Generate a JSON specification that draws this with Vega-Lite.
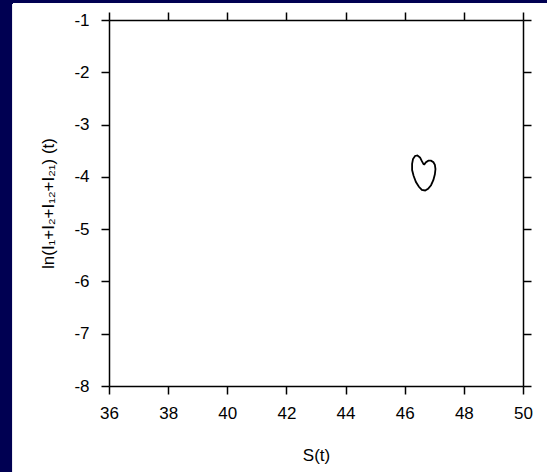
{
  "$schema": "https://vega.github.io/schema/vega-lite/v6.json",
  "autosize": "none",
  "width": 414,
  "height": 366,
  "padding": {"left": 109, "top": 20, "right": 24, "bottom": 86},
  "background": "#000052",
  "config": {
    "view": {"stroke": null},
    "axis": {
      "labelFont": "Liberation Sans",
      "titleFont": "Liberation Sans",
      "labelFontSize": 17,
      "titleFontSize": 17,
      "titleFontWeight": "normal",
      "labelColor": "black",
      "titleColor": "black",
      "domainColor": "black",
      "tickColor": "black",
      "domainWidth": 1.5,
      "tickWidth": 1.5,
      "tickSize": 8,
      "grid": false
    }
  },
  "data": {
    "values": [
      {"i": 0, "s": 46.65, "l": -3.77},
      {"i": 1, "s": 46.72, "l": -3.72},
      {"i": 2, "s": 46.80, "l": -3.69},
      {"i": 3, "s": 46.89, "l": -3.69},
      {"i": 4, "s": 46.97, "l": -3.72},
      {"i": 5, "s": 47.02, "l": -3.77},
      {"i": 6, "s": 47.04, "l": -3.85},
      {"i": 7, "s": 47.02, "l": -3.95},
      {"i": 8, "s": 46.97, "l": -4.06},
      {"i": 9, "s": 46.89, "l": -4.16},
      {"i": 10, "s": 46.79, "l": -4.23},
      {"i": 11, "s": 46.69, "l": -4.26},
      {"i": 12, "s": 46.58, "l": -4.25},
      {"i": 13, "s": 46.48, "l": -4.19},
      {"i": 14, "s": 46.38, "l": -4.10},
      {"i": 15, "s": 46.30, "l": -3.98},
      {"i": 16, "s": 46.25, "l": -3.87},
      {"i": 17, "s": 46.25, "l": -3.75},
      {"i": 18, "s": 46.28, "l": -3.66},
      {"i": 19, "s": 46.35, "l": -3.60},
      {"i": 20, "s": 46.43, "l": -3.59},
      {"i": 21, "s": 46.52, "l": -3.63},
      {"i": 22, "s": 46.58, "l": -3.70},
      {"i": 23, "s": 46.65, "l": -3.77}
    ]
  },
  "layer": [
    {
      "mark": {"type": "rect", "color": "white", "clip": false, "zindex": 0},
      "encoding": {
        "x": {"datum": 32.75, "type": "quantitative", "scale": {"domain": [36, 50], "nice": false}, "axis": null},
        "x2": {"datum": 70},
        "y": {"datum": -0.69, "type": "quantitative", "scale": {"domain": [-8, -1], "nice": false}, "axis": null},
        "y2": {"datum": -20}
      }
    },
    {
      "mark": {"type": "line", "color": "black", "strokeWidth": 1.8, "interpolate": "linear", "zindex": 1},
      "encoding": {
        "x": {
          "field": "s", "type": "quantitative",
          "scale": {"domain": [36, 50], "nice": false, "zero": false},
          "axis": {"title": "S(t)", "values": [36, 38, 40, 42, 44, 46, 48, 50], "labelPadding": 11, "titlePadding": 26, "labelFlush": false, "zindex": 3}
        },
        "y": {
          "field": "l", "type": "quantitative",
          "scale": {"domain": [-8, -1], "nice": false, "zero": false},
          "axis": {"title": "ln(I₁+I₂+I₁₂+I₂₁) (t)", "values": [-8, -7, -6, -5, -4, -3, -2, -1], "labelExpr": "replace(datum.label, '−', '-')", "labelPadding": 12, "titlePadding": 16, "labelFlush": false, "zindex": 3}
        },
        "order": {"field": "i", "type": "quantitative"}
      }
    },
    {
      "mark": {"type": "point", "opacity": 0, "zindex": 1},
      "encoding": {
        "x": {
          "field": "s", "type": "quantitative",
          "scale": {"domain": [36, 50], "nice": false, "zero": false},
          "axis": {"orient": "top", "title": null, "labels": false, "values": [36, 38, 40, 42, 44, 46, 48, 50], "zindex": 3}
        },
        "y": {
          "field": "l", "type": "quantitative",
          "scale": {"domain": [-8, -1], "nice": false, "zero": false},
          "axis": {"orient": "right", "title": null, "labels": false, "values": [-8, -7, -6, -5, -4, -3, -2, -1], "zindex": 3}
        }
      }
    }
  ],
  "resolve": {"scale": {"x": "independent", "y": "independent"}, "axis": {"x": "independent", "y": "independent"}}
}
